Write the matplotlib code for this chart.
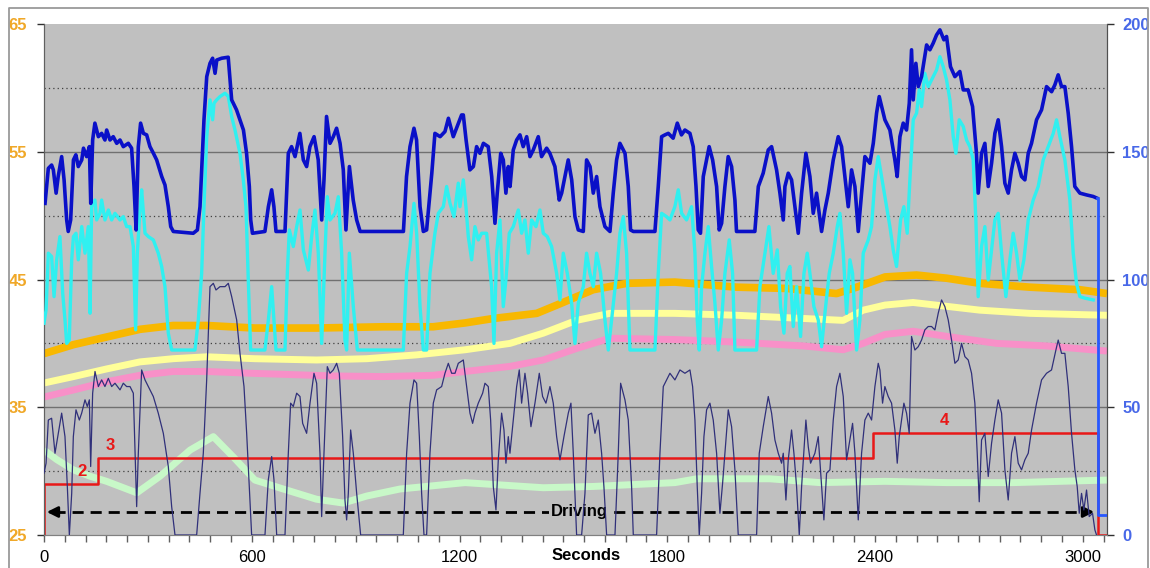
import matplotlib
matplotlib.use("Agg")
import matplotlib.pyplot as plt
from matplotlib.lines import Line2D

plt.rcParams['font.family'] = ['Liberation Sans', 'DejaVu Sans']

# --- right axis series (0-200) ---
t_blue = [3, 12.5, 22, 27, 35, 41, 51, 58, 65.5, 70, 77, 85, 92, 99, 109, 114, 123, 131, 135, 140.5,
          147, 157, 166.5, 176, 181, 190.6, 200, 210, 219.5, 229, 243.5, 253, 260, 266, 272.4, 279, 287,
          296.5, 306, 316, 325.4, 340, 349.4, 359, 366, 373.5, 431, 443, 450.5, 462, 470, 479.4, 487,
          494, 499, 513, 532, 542, 556, 566, 576, 585, 593, 597, 602,
          638, 648, 657.5, 664, 670, 696, 705.6, 715, 725, 739, 749, 758.5, 768, 780, 792, 802, 808.6,
          816, 826, 835.5, 845, 855, 864.4, 872, 882, 893, 903, 913, 1038, 1047, 1057, 1068.5, 1076,
          1086, 1095.5, 1105, 1120, 1129, 1144, 1158, 1168, 1182, 1197, 1206,
          1211, 1219, 1230, 1240, 1249.4, 1259, 1269, 1283, 1293, 1302.4, 1309, 1319, 1326.5, 1334,
          1341, 1346, 1355.3, 1365, 1374.6, 1384, 1394, 1403.5, 1413, 1427.5, 1437, 1451.6, 1461,
          1475.6, 1488, 1495, 1504.5, 1514, 1524, 1533.4, 1543, 1557.5, 1567, 1577, 1586.3, 1596,
          1605.6, 1620, 1634.5, 1644, 1653.7, 1663.3, 1678, 1687.4, 1694, 1702, 1764.4, 1774, 1783.7,
          1793.3, 1803, 1817,
          1829, 1841, 1851, 1865.5, 1875, 1883, 1889.5, 1896, 1904, 1913.6, 1921, 1931, 1942.5, 1950,
          1957, 1966.5, 1976, 1985.8, 1995.4, 2000, 2053, 2063, 2077, 2091.7, 2101.3, 2115.7, 2125.4,
          2135, 2139.8, 2149.4, 2159, 2168.7, 2178.3, 2188, 2200.4, 2212, 2221.6, 2231.2, 2245.7,
          2255.3, 2265, 2279.4, 2293.8, 2303.4, 2313, 2322.7, 2332.3, 2342, 2351.6, 2361.2, 2370.8,
          2385.3, 2395, 2404.5, 2412.2,
          2428.5, 2443, 2457.4, 2464, 2472, 2481.5, 2491, 2499, 2505.5, 2510.4, 2518, 2525, 2534.4,
          2549, 2558.5, 2568, 2577.7, 2587.4, 2599, 2606.6, 2618, 2630.7, 2645, 2654.8, 2669, 2681.7,
          2693, 2698, 2707.7, 2717.3, 2727, 2736.6, 2746.2, 2755.8, 2765.5, 2775, 2784.7, 2794.3,
          2804, 2813.6, 2823.2, 2832.8, 2842.5, 2852, 2866.5, 2881, 2895.4, 2910, 2919.5, 2929,
          2938.7, 2948.3, 2958, 2967.6, 2977, 2991.7, 3011, 3030, 3041.7]
blue = [129.8, 143.5, 144.8, 142.9, 133.8, 140.3, 148.1, 139, 123.3, 118.8, 123.3, 146.8, 148.8, 144.2,
        146.8, 151.4, 148.1, 152, 129.8, 154.6, 161.2, 155.9, 157.2, 154.6, 158.5, 154.6, 155.9, 153.3,
        154.6, 152, 153.3, 151.4, 136.4, 119.4, 152, 161.2, 157.2, 156.6, 152, 149.4, 146.8, 140.3,
        137, 128.5, 120.7, 118.8, 118.1, 119.4, 128.5, 162.5, 179.4, 184.6, 186.6, 180.7, 185.9,
        186.6, 187, 170.3, 166.4, 162.5, 158.5, 149.4, 136.4, 123.3, 118.1,
        118.8, 128.5, 135.1, 128.5, 118.8, 118.8, 149.4, 152, 148.1, 157.2, 146.8, 144.2, 152, 155.9,
        146.8, 123.3, 139, 163.8, 153.3, 155.9, 159.2, 153.3, 142.9, 119.4, 144.2, 131.1, 123.3,
        118.8, 118.8, 140.3, 152, 159.2, 154.6, 128.5, 118.8, 119.4, 141.6, 157.2, 155.9, 157.9,
        163.1, 155.9, 161.2, 164.4,
        164.4, 154.6, 142.9, 144.2, 152, 149.4, 153.3, 152, 140.3, 122, 133.8, 149.4, 146.8, 133.8,
        144.2, 136.4, 150.7, 154.6, 156.6, 152, 155.9, 148.1, 150.7, 155.9, 148.1, 151.4, 149.4,
        144.2, 131.1, 133.8, 140.3, 146.8, 139, 124.6, 119.4, 118.8, 146.8, 144.2, 133.8, 140.3,
        128.5, 120.7, 118.8, 133.8, 146.8, 153.3, 149.4, 136.4, 119.4, 118.8, 118.8, 136.4, 155.9,
        156.6, 157.2, 155.3,
        161.2, 156.6, 158.5, 157.2, 152, 136.4, 119.4, 118.1, 140.3, 146.8, 152, 146.8, 136.4, 119.4,
        122, 136.4, 148.1, 144.2, 131.1, 118.8, 118.8, 136.4, 141.6, 150.7, 152, 142.9, 133.8,
        123.3, 136.4, 141.6, 139, 128.5, 118.1, 133.8, 149.4, 140.3, 125.9, 133.8, 118.8,
        127.2, 133.8, 146.8, 155.9, 152, 140.3, 128.5, 142.9, 136.4, 118.8, 133.8, 148.1,
        145.5, 153.3, 165.1, 171.6,
        162.5, 158.5, 146.8, 140.3, 155.9, 161.2, 158.5, 169, 189.9, 170.3, 184.6, 175.5, 179.4,
        191.8, 189.9, 192.5, 195.7, 197.7, 193.8, 195.1, 183.3, 179.4, 181.4, 174.2, 174.2, 167.7,
        149.4, 133.8, 149.4, 153.3, 136.4, 145.5, 157.2, 162.5, 152, 137.7, 133.8, 142.9,
        149.4, 145.5, 140.3, 139, 149.4, 153.3, 162.5, 166.4, 175.5, 173.5, 176.2, 180.1,
        175.5, 175.5, 165.1, 152, 136.4, 133.8, 133.1, 132.5, 131.8]

t_cyan = [0, 6, 12.5, 22, 29, 36.6, 46, 54, 60.6, 65.5, 73, 80, 85, 92.4, 99, 109, 118.4, 128, 133,
          137.6, 147, 152, 161.7, 166.5, 176, 186, 195.4, 205, 219.5, 229, 238.7, 248.4, 258, 264.7,
          269.5, 277.2, 282, 291.7, 301.3, 315.7, 330, 339.8, 349.4, 359, 368.7, 436, 445.7, 455.3,
          462, 470, 479.4, 487, 491, 498.6, 508.3, 522.7, 532.3, 542, 551.6, 566, 575.6, 583.3, 590,
          596.8, 638, 648, 657.5, 664, 670, 696, 702.7, 708.5, 720, 729.7, 739.3, 749, 763.4, 773,
          782.6, 792.2, 801.9, 811.5, 818.2, 826, 840.4, 850, 859.6, 869.2, 874, 881.8, 893.3,
          904.9, 1037.7, 1047.3, 1057, 1068.5, 1076.2, 1086, 1095.5, 1105, 1114.7, 1129, 1138.8,
          1153.2, 1162.8, 1172.5, 1184, 1196.5,
          1201.3, 1211, 1218.6, 1225.4, 1235, 1244.6, 1254.3, 1264, 1278.3, 1292.7, 1299.5, 1307.2,
          1316.8, 1326.4, 1334, 1343.8, 1355.3, 1369.8, 1379.4, 1389, 1398.6, 1408.3, 1420.8,
          1432.3, 1442, 1453.5, 1466, 1480.5, 1490, 1499.7, 1511.3, 1523.8, 1533.4, 1543, 1557.5,
          1567, 1576.7, 1586.3, 1596, 1607.5, 1620, 1629.7, 1639.3, 1653.7, 1663.3, 1673, 1682.6,
          1692.2, 1764.4, 1774, 1783.7, 1798,
          1807.7, 1822, 1831.8, 1841.4, 1855.8, 1870.3, 1880, 1886.6, 1892.4, 1899.2, 1908.8,
          1918.4, 1928, 1937.7, 1947.3, 1957, 1966.5, 1979, 1988.7, 1995.4, 2058, 2067.6, 2082,
          2093.6, 2106, 2117.7, 2127.3, 2137, 2146.5, 2154.2, 2163.9, 2173.5, 2185, 2194.7, 2204.3,
          2212, 2223.5, 2236, 2245.7, 2255.3, 2267.8, 2279.4, 2291, 2298.6, 2308.3, 2317.9, 2327.5,
          2335.2, 2346.8, 2356.4, 2366, 2380.5, 2390, 2399.7, 2409.3,
          2423.7, 2433.4, 2443, 2452.6, 2462.2, 2467, 2473.8, 2483.4, 2493, 2500.7, 2510.4, 2520,
          2527.7, 2534.4, 2544, 2553.7, 2563.3, 2577.7, 2587.4, 2597, 2606.6, 2616.3, 2625.9,
          2633.6, 2643.2, 2654.8, 2664.4, 2674, 2683.6, 2691.3, 2698, 2707.7, 2717.3, 2727, 2736.6,
          2746.2, 2755.8, 2765.5, 2778, 2789.5, 2799.1, 2808.8, 2818.4, 2830, 2842.5, 2856.9,
          2871.3, 2885.8, 2900.2, 2914.7, 2924.3, 2933.9, 2948.3, 2962.8, 2972.4, 2982, 2991.7,
          3006.1, 3030.2]
cyan = [82.9, 88.1, 110.3, 109, 93.3, 107.7, 116.8, 94.6, 84.2, 75, 76.3, 107.7, 116.8, 118.1, 107.7,
        120.7, 110.3, 120.7, 86.8, 128.5, 131.1, 123.3, 125.9, 131.1, 123.3, 127.2, 123.3, 125.9,
        123.3, 124.6, 120.7, 120.7, 112.9, 80.3, 110.3, 127.2, 135.1, 118.1, 116.8, 115.5, 110.3,
        105.1, 97.2, 79, 72.4, 72.4, 84.2, 102.4, 128.5, 155.9, 170.3, 162.5, 169, 170.3, 171.6,
        172.9, 171.6, 163.8, 158.5, 149.4, 139, 128.5, 99.8, 72.4,
        72.4, 84.2, 97.2, 84.2, 72.4, 72.4, 102.4, 119.4, 112.9, 120.7, 127.2, 111.6, 103.7, 116.8,
        127.2, 110.3, 75, 110.3, 132.4, 123.3, 125.9, 132.4, 110.3, 76.3, 72.4, 110.3, 89.4,
        72.4, 72.4, 102.4, 112.9, 129.8, 118.1, 89.4, 72.4, 72.4, 102.4, 118.1, 125.9,
        128.5, 136.4, 129.8, 124.6, 137.7,
        128.5, 139, 128.5, 116.8, 107.7, 120.7, 115.5, 118.1, 118.1, 97.2, 75, 110.3,
        123.3, 89.4, 99.8, 118.1, 120.7, 127.2, 118.1, 123.3, 110.3, 123.3, 120.7,
        127.2, 118.1, 116.8, 112.9, 102.4, 92, 110.3, 102.4, 90.7, 75, 90.7, 97.2,
        110.3, 102.4, 97.2, 110.3, 102.4, 84.2, 72.4, 84.2, 102.4, 118.1, 124.6, 110.3,
        72.4, 72.4, 102.4, 125.9, 124.6,
        123.3, 128.5, 135.1, 125.9, 123.3, 128.5, 110.3, 84.2, 72.4, 97.2, 110.3,
        120.7, 105.1, 90.7, 72.4, 84.2, 102.4, 115.5, 102.4, 72.4, 72.4, 97.2, 110.3,
        120.7, 102.4, 111.6, 89.4, 79, 102.4, 105.1, 81.6, 97.2, 77.7, 102.4, 110.3,
        102.4, 89.4, 84.2, 73.7, 86.8, 102.4, 110.3, 120.7, 125.9, 110.3, 86.8, 107.7,
        102.4, 72.4, 84.2, 110.3, 115.5, 120.7, 139, 148.1,
        136.4, 128.5, 120.7, 111.6, 105.1, 112.9, 123.3, 128.5, 118.1, 139, 162.5, 165.1,
        174.2, 167.7, 180.7, 175.5, 178.1, 182, 187.2, 183.3, 178.1, 170.3, 155.9,
        149.4, 162.5, 159.9, 154.6, 152, 146.8, 123.3, 93.3, 112.9, 120.7, 99.8, 111.6,
        123.3, 125.9, 110.3, 93.3, 107.7, 118.1, 110.3, 99.8, 107.7, 123.3, 131.1,
        136.4, 146.8, 152, 157.2, 162.5, 155.9, 146.8, 131.1, 110.3, 98.5, 93.3,
        92.7, 92]

t_speed = [0, 6, 12.5, 22, 31.8, 41.4, 51, 60.6, 67.4, 73.2, 80, 84.7, 92.4, 102, 108.8, 118.4, 125,
           131, 134.8, 140.5, 147.3, 157, 166.5, 176, 185.8, 195.4, 205, 219.5, 229, 238.7, 248.4,
           258, 264.7, 267.6, 272.4, 282, 291.7, 301.3, 315.7, 330, 344.6, 359, 368.7, 378.3, 440.9,
           450.5, 460.1, 469.8, 479.4, 489, 496.7, 508.3, 522.7, 532.3, 542, 556.4, 566, 577.6,
           585.3, 593, 599.7,
           604.5, 638.2, 647.8, 657.5, 664.2, 672, 696, 705.6, 712.3, 720, 729.7, 739.3, 747, 758.5,
           768.2, 779.7, 787.4, 797, 801.9, 808.6, 818.2, 826, 835.5, 845.2, 852.9, 862.5, 869.2,
           874, 878.9, 885.6, 893.3, 903, 914.5, 1037.7, 1047.3, 1057, 1068.5, 1076.2, 1084, 1090.6,
           1097.4, 1105, 1114.7, 1124.3, 1134, 1148.4, 1158, 1167.7, 1177.3, 1187, 1196.5,
           1211, 1220.6, 1230.2, 1237.9, 1244.6, 1254.2, 1266.8, 1273.5, 1283.1, 1289.9, 1297.6,
           1305.3, 1312, 1321.6, 1328.4, 1334.1, 1340.9, 1345.7, 1355.3, 1365, 1372.6, 1379.4,
           1389, 1396.7, 1406.3, 1417.9, 1430.4, 1440, 1449.6, 1461.2, 1470.8, 1480.5, 1490.1,
           1501.6, 1514.2, 1521.8, 1528.6, 1533.4, 1538.2, 1552.7, 1562.3, 1571.9, 1581.5, 1591.2,
           1600.8, 1610.4, 1617.1, 1624.9, 1649, 1658.5, 1665.3, 1677.8, 1687.4, 1697, 1701.9,
           1769.2, 1778.9, 1788.5, 1798.1,
           1807.7, 1822.1, 1836.6, 1851, 1865.5, 1873.2, 1879.9, 1886.6, 1892.4, 1899.2, 1905.9,
           1913.6, 1923.2, 1932.8, 1942.5, 1952.1, 1959.8, 1966.5, 1976.2, 1985.8, 1995.4, 2005,
           2058, 2065.7, 2077.2, 2091.7, 2101.3, 2110.9, 2120.6, 2130.2, 2135, 2142.7, 2149.4,
           2159, 2165.8, 2173.5, 2181.2, 2188, 2200.4, 2207.2, 2213.9, 2226.4, 2236, 2245.7,
           2252.4, 2260.1, 2269.8, 2279.4, 2289, 2298.6, 2308.3, 2317.9, 2327.5, 2335.2, 2342,
           2351.6, 2361.2, 2370.8, 2380.5, 2390.1, 2399.7, 2409.3,
           2414.1, 2421.8, 2428.5, 2438.2, 2447.8, 2457.4, 2464.2, 2470, 2476.7, 2483.4, 2491.1,
           2498.8, 2505.5, 2515.2, 2524.8, 2534.4, 2544, 2553.7, 2563.3, 2572.9, 2582.6, 2592.2,
           2601.8, 2611.4, 2621.1, 2630.7, 2640.3, 2650, 2659.6, 2669.2, 2678.8, 2688.4, 2695.2,
           2701, 2707.7, 2717.3, 2727, 2736.6, 2746.2, 2755.8, 2765.5, 2775.1, 2784.7, 2794.3,
           2804, 2813.6, 2823.2, 2832.8, 2842.5, 2852.1, 2866.5, 2881, 2895.4, 2909.8, 2922.4,
           2929.1, 2938.7, 2948.3, 2958, 2967.6, 2977.2, 2984, 2989.8, 2996.5, 3003.2, 3010.9,
           3018.6, 3028.2, 3035, 3039.8]
speed = [24.2, 28.1, 45, 45.7, 32, 39.8, 47.7, 38.5, 18.9, 0, 16.3, 38.5, 49, 45, 47.7, 52.9, 50.3,
         52.9, 26.8, 55.5, 64, 58.1, 60.7, 58.1, 61.3, 58.1, 59.4, 56.8, 59.4, 58.1, 58.1,
         55.5, 25.5, 11.1, 32, 64.6, 60.7, 58.1, 54.2, 47.7, 39.8, 26.8, 11.1, 0, 0,
         16.3, 32, 60.7, 97.2, 98.5, 95.9, 97.2, 97.2, 98.5, 93.3, 84.2, 71.1, 58.1,
         39.8, 18.9, 0,
         0, 0, 21.6, 30.7, 21.6, 0, 0, 32, 51.6, 50.3, 55.5, 54.2, 43.7, 39.8,
         51.6, 63.3, 59.4, 32, 7.2, 32, 65.9, 63.3, 64.6, 67.2, 63.3, 38.5, 13.7,
         5.9, 16.3, 41.1, 32, 16.3, 0, 0, 32, 51.6, 60.7, 59.4, 38.5, 16.3,
         0, 0, 32, 51.6, 56.8, 58.1, 63.3, 67.2, 63.3, 63.3, 67.2,
         68.5, 58.1, 47.7, 43.7, 47.7, 51.6, 55.5, 59.4, 58.1, 45, 18.9,
         9.8, 29.4, 47.7, 41.1, 28.1, 38.5, 32, 45, 58.1, 64.6, 51.6,
         63.3, 55.5, 42.4, 51.6, 63.3, 54.2, 51.6, 58.1, 51.6, 38.5, 29.4,
         38.5, 47.7, 51.6, 32, 16.3, 0, 0, 16.3, 47, 47.7, 39.8,
         45, 32, 18.9, 0, 0, 32, 59.4, 52.9, 45, 18.9, 0,
         0, 32, 58.1, 60.7,
         63.3, 60.7, 64.6, 63.3, 64.6, 58.1, 45, 18.9, 0, 16.3, 38.5,
         49, 51.6, 45, 32, 8.5, 20.2, 32, 49, 42.4, 25.5, 0,
         0, 32, 42.4, 54.2, 47.7, 37.2, 32, 28.1, 32, 13.7, 29.4,
         41.1, 32, 18.9, 0, 18.9, 45, 34.6, 28.1, 32, 38.5, 18.9,
         5.9, 24.2, 25.5, 45, 58.1, 63.3, 54.2, 29.4, 37.2, 43.7, 32,
         5.9, 32, 45, 47.7, 45, 58.1, 67.2,
         64.6, 51.6, 58.1, 54.2, 51.6, 41.1, 28.1, 38.5, 45, 51.6, 47.7,
         39.8, 77.7, 72.4, 73.7, 76.3, 80.3, 81.6, 81.6, 80.3, 86.8, 92,
         89.4, 84.2, 76.3, 67.2, 68.5, 75, 69.8, 68.5, 63.3, 51.6, 32,
         13, 37.2, 39.8, 22.9, 35.9, 45, 52.9, 47.7, 25.5, 13.7, 32,
         38.5, 28.1, 25.5, 29.4, 32, 41.1, 51.6, 60.7, 63.3, 64.6, 72.4,
         76.3, 71.1, 71.1, 58.1, 39.8, 25.5, 18.9, 8.5, 16.3, 9.8, 17.6,
         7.2, 8.5, 2, 0]

# end of test: signal drops
t_drop = [3041.7, 3044.6, 3044.6, 3070]
drop = [131.8, 131.8, 7.9, 7.9]

# --- left axis series (25-65) ---
t_orange = [0, 85, 181, 277, 373, 470, 609, 787, 980, 1124, 1216, 1298, 1423, 1490, 1586, 1683,
            1822, 2000, 2145, 2289, 2347, 2429, 2520, 2607, 2703, 2847, 2992, 3070]
orange = [39.2, 39.9, 40.5, 41.1, 41.4, 41.4, 41.2, 41.2, 41.3, 41.3, 41.6, 41.95, 42.35, 43.1,
          44.2, 44.7, 44.8, 44.4, 44.3, 43.9, 44.4, 45.2, 45.35, 45.1, 44.7, 44.4, 44.2, 43.9]

t_yellow = [0, 85, 181, 277, 373, 470, 609, 787, 932, 1076, 1216, 1346, 1442, 1538, 1634, 1822,
            2000, 2193, 2308, 2366, 2429, 2510, 2607, 2703, 2847, 3070]
yellow = [36.9, 37.4, 38.0, 38.55, 38.8, 38.95, 38.8, 38.7, 38.8, 39.1, 39.5, 40.0, 40.8, 41.8,
          42.35, 42.35, 42.2, 41.95, 41.8, 42.6, 43.0, 43.2, 42.9, 42.6, 42.35, 42.2]

t_pink = [0, 85, 181, 277, 373, 470, 609, 836, 980, 1124, 1216, 1346, 1442, 1538, 1634, 1822,
          2000, 2193, 2308, 2366, 2429, 2510, 2607, 2751, 2895, 3070]
pink = [35.8, 36.35, 37.0, 37.5, 37.8, 37.8, 37.65, 37.45, 37.4, 37.5, 37.8, 38.2, 38.7, 39.6,
        40.4, 40.3, 40.1, 39.8, 39.5, 40.0, 40.7, 40.95, 40.55, 40.0, 39.8, 39.4]

t_green = [0, 37, 85, 133, 181, 268, 335, 422, 489, 547, 609, 691, 787, 864, 932, 1028, 1216, 1442,
           1586, 1822, 1885, 2096, 2241, 2429, 2607, 2799, 3070]
green = [31.65, 30.9, 30.1, 29.6, 29.2, 28.3, 29.6, 31.65, 32.7, 31.1, 29.3, 28.6, 27.8, 27.5,
         28.05, 28.6, 29.1, 28.7, 28.8, 29.1, 29.4, 29.4, 29.1, 29.2, 29.1, 29.1, 29.3]

# gear steps
t_gear = [0, 0, 157, 2393, 3044, 3070]
gear = [25, 29, 31, 33, 25, 25]
gear_labels = ['2', '3', '4']
gear_label_t = [110, 191, 2600]
gear_label_y = [30.0, 32.0, 34.0]

driving_y = 26.8
driving_end = 3041

xticks = list(range(0, 3061, 60))
xticklabels = [str(x) if x % 600 == 0 else '' for x in xticks]

fig = plt.figure(figsize=(11.5, 5.68), dpi=100)
ax = fig.add_axes([44 / 1150, 33 / 568, 1063 / 1150, 511 / 568])
ax2 = ax.twinx()
ax.set_zorder(ax2.get_zorder() - 1)
ax.set_facecolor('#c0c0c0')
ax2.patch.set_visible(False)

# frame around the whole chart (top, left, right edges)
x0, x1, ytop = 8.5 / 1150, 1147.5 / 1150, 1 - 7.5 / 568
fig.add_artist(Line2D([x0, x0, x1, x1], [0, ytop, ytop, 0], transform=fig.transFigure,
                      color='#9a9a9a', lw=1.3))

ax.set_xlim(0, 3070)
ax.set_ylim(25, 65)
ax2.set_ylim(0, 200)

for y in [35, 45, 55]:
    ax.axhline(y, color='#707070', lw=1.0, zorder=1)
for y in [30, 40, 50, 60]:
    ax.axhline(y, color='#404040', lw=0.9, ls=(0, (1, 2.5)), zorder=1)

ax.plot(t_green, green, color='#c8f8c8', lw=5, solid_capstyle='butt', zorder=2)
ax.plot(t_pink, pink, color='#f890c8', lw=5, solid_capstyle='butt', zorder=2)
ax.plot(t_yellow, yellow, color='#ffff99', lw=5, solid_capstyle='butt', zorder=2)
ax.plot(t_orange, orange, color='#f8b800', lw=5.5, solid_capstyle='butt', zorder=2)
ax.plot(t_gear, gear, color='#e81818', lw=1.8, drawstyle='steps-post', zorder=5)
for s, x, y in zip(gear_labels, gear_label_t, gear_label_y):
    ax.text(x, y, s, color='#e81818', fontsize=12, fontweight='bold', ha='center', va='center', zorder=6)

ax2.plot(t_speed, speed, color='#30307a', lw=0.9, zorder=3)
ax2.plot(t_cyan, cyan, color='#30f0f0', lw=2.4, zorder=4)
ax2.plot(t_blue, blue, color='#0a10c8', lw=2.6, zorder=4)
ax2.plot(t_drop, drop, color='#2858ff', lw=2.0, zorder=4)

# driving arrow
ax.plot([30, driving_end - 30], [driving_y, driving_y], color='black', lw=2, ls=(0, (4, 2.5)), zorder=6)
ax.annotate('', xy=(0, driving_y), xytext=(45, driving_y),
            arrowprops=dict(arrowstyle='-|>', color='black', lw=2, mutation_scale=16), zorder=7)
ax.annotate('', xy=(driving_end, driving_y), xytext=(driving_end - 45, driving_y),
            arrowprops=dict(arrowstyle='-|>', color='black', lw=2, mutation_scale=16), zorder=7)
ax.text(1545, driving_y + 0.05, 'Driving', fontsize=12, fontweight='bold', ha='center', va='center',
        bbox=dict(facecolor='#c0c0c0', edgecolor='none', pad=1), zorder=7)

ax.set_xticks(xticks)
ax.set_xticklabels(xticklabels)
ax.set_yticks([25, 35, 45, 55, 65])
ax2.set_yticks([0, 50, 100, 150, 200])
ax.tick_params(axis='x', length=5, width=1, color='#606060', pad=6, labelsize=12)
ax.tick_params(axis='y', length=5, width=1, color='#303030', pad=7, labelsize=12, labelcolor='#f0a828')
ax2.tick_params(axis='y', length=5, width=1, color='#303030', pad=6, labelsize=12, labelcolor='#4868e8')
for lab in ax.get_yticklabels() + ax2.get_yticklabels():
    lab.set_fontweight('bold')

for a in (ax, ax2):
    a.spines['top'].set_visible(False)
    a.spines['left'].set_color('#606060')
    a.spines['right'].set_color('#505050')
    a.spines['bottom'].set_color('#808080')

ax.text(0.51, -0.041, 'Seconds', transform=ax.transAxes, fontsize=12, fontweight='bold',
        ha='center', va='center')

fig.savefig('out.png', dpi=100)
